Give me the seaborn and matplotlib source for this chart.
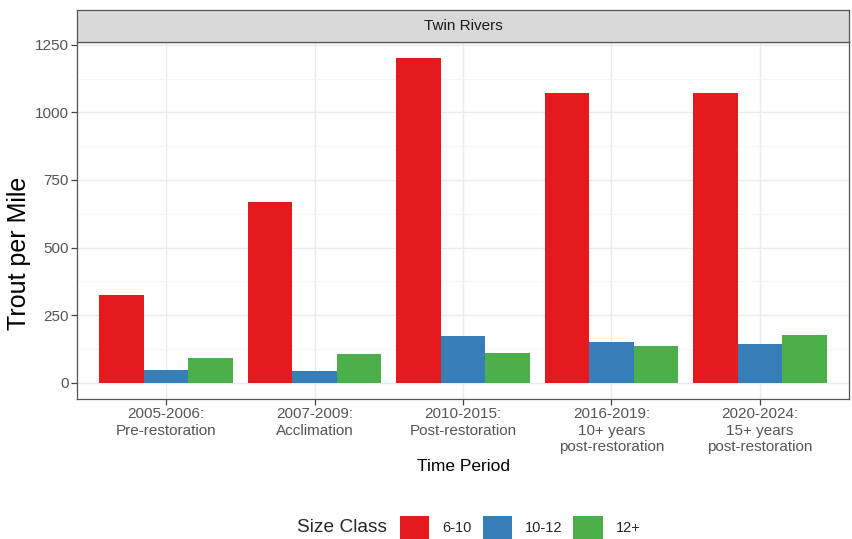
import matplotlib
matplotlib.use('Agg')

import matplotlib.pyplot as plt
import matplotlib.patches as mpatches
import seaborn as sns
import pandas as pd

# values
periods = ['2005-2006:\nPre-restoration', '2007-2009:\nAcclimation',
           '2010-2015:\nPost-restoration', '2016-2019:\n10+ years\npost-restoration',
           '2020-2024:\n15+ years\npost-restoration']
size_classes = ['6-10', '10-12', '12+']
trout_6_10 = [323, 668, 1202, 1073, 1073]
trout_10_12 = [47, 44, 172, 150, 145]
trout_12_plus = [93, 108, 110, 135, 176]
colors = ['#E41A1C', '#377EB8', '#4DAF4A']

rows = []
for i, p in enumerate(periods):
    for cls, vals in zip(size_classes, [trout_6_10, trout_10_12, trout_12_plus]):
        rows.append({'period': p, 'size': cls, 'trout': vals[i]})
df = pd.DataFrame(rows)

sns.set_theme(style='white')
plt.rcParams['font.family'] = ['Liberation Sans', 'DejaVu Sans']

fig = plt.figure(figsize=(8.53, 5.39), dpi=100)
ax = fig.add_axes([0.0903, 0.2597, 0.905, 0.6633])

sns.barplot(data=df, x='period', y='trout', hue='size', hue_order=size_classes,
            palette=colors, width=0.9, saturation=1, ax=ax, legend=False,
            edgecolor='none', linewidth=0)

ax.set_xlim(-0.6, 4.6)
ax.set_ylim(-60, 1262)
ax.set_yticks([0, 250, 500, 750, 1000, 1250])
ax.set_yticks([125, 375, 625, 875, 1125], minor=True)
ax.grid(True, which='major', color='#EBEBEB', linewidth=1.0)
ax.grid(True, which='minor', axis='y', color='#F4F4F4', linewidth=0.6)
ax.set_axisbelow(True)
for s in ax.spines.values():
    s.set_color('#555555')
    s.set_linewidth(0.9)

ax.tick_params(axis='both', which='major', length=4, width=0.9, color='#444444',
               labelcolor='#555555', labelsize=11, left=True, bottom=True, pad=2)
ax.tick_params(axis='y', which='minor', length=0)
ax.set_ylabel('Trout per Mile', fontsize=18, color='black')
ax.yaxis.set_label_coords(-0.059, 0.408)
ax.set_xlabel('Time Period', fontsize=12.5, color='black', labelpad=4)

# facet strip
strip = fig.add_axes([0.0903, 0.923, 0.905, 0.0584])
strip.set_facecolor('#D9D9D9')
strip.set_xticks([])
strip.set_yticks([])
for s in strip.spines.values():
    s.set_color('#555555')
    s.set_linewidth(0.9)
strip.text(0.5, 0.5, 'Twin Rivers', ha='center', va='center', fontsize=11,
           color='#1A1A1A', transform=strip.transAxes)

# legend at the bottom
handles = [mpatches.Patch(facecolor=c, edgecolor='none', label=l)
           for c, l in zip(colors, size_classes)]
fig.text(0.348, 0.021, 'Size Class', fontsize=13.8, va='center', ha='left')
fig.legend(handles=handles, loc='center left', bbox_to_anchor=(0.469, 0.021),
           ncol=3, frameon=False, fontsize=10.5, handlelength=2.0, handleheight=2.0,
           handletextpad=0.9, columnspacing=0.75, borderpad=0, borderaxespad=0)

plt.savefig('out.png', dpi=100)
